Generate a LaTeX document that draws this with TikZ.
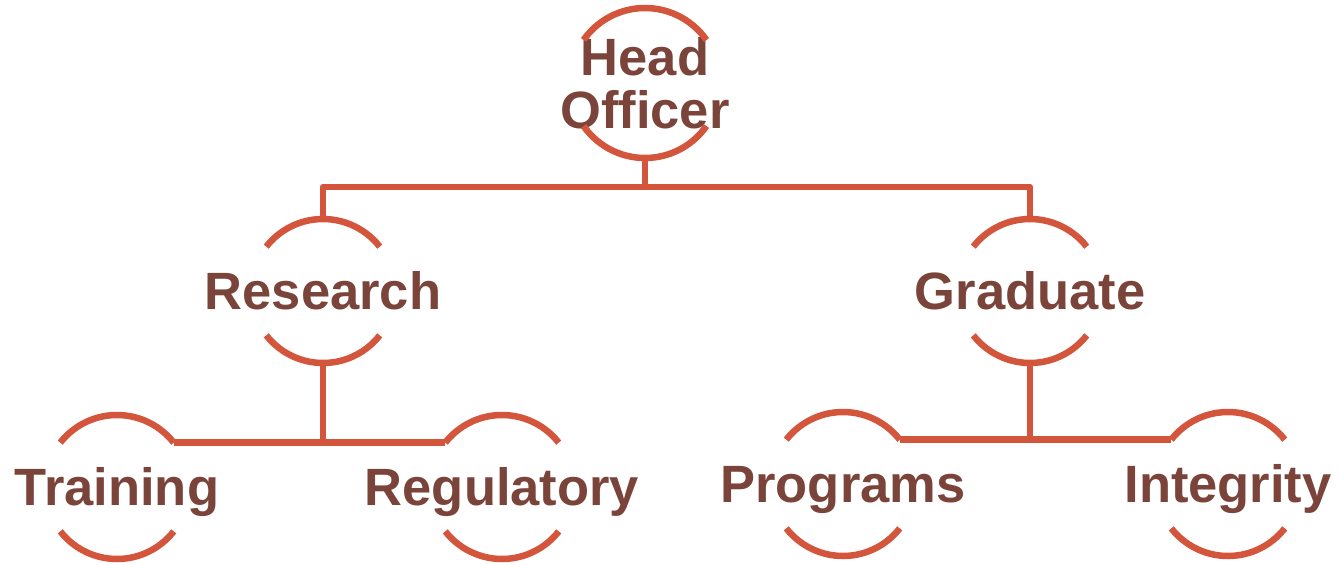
\documentclass[tikz,border=0pt]{standalone}
\usepackage{fontspec}
\setmainfont{Liberation Sans}
\usetikzlibrary{calc}
\usetikzlibrary{positioning}
\definecolor{linkred}{RGB}{211,85,60}
\definecolor{unitbrown}{RGB}{122,68,58}
\tikzset{
  unit/.style={text=unitbrown, font=\bfseries\fontsize{52.5}{53}\selectfont, inner sep=0pt},
  oneline/.style={text height=37.6pt, text depth=0pt},
  link/.style={draw=linkred, line width=6.5pt, line join=round},
}

\begin{document}
\begin{tikzpicture}[x=1pt,y=1pt]
\useasboundingbox (0,0) rectangle (1339,-565);
% The units of the chart
\node[unit, align=center] (head) at (645,-83) {Head\\Officer};
\node[unit, oneline] (res) at (323,-291) {Research};
\node[unit, oneline] (grad) at (1030,-291) {Graduate};
\node[unit, oneline] (train) at (117,-487) {Training};
\node[unit, oneline] (reg) at (502,-487) {Regulatory};
\node[unit, oneline] (prog) at (843,-484) {Programs};
\node[unit, oneline] (integ) at (1228,-484) {Integrity};
%% Open circles round the units, with their top, bottom and corner points
\foreach \n/\r/\a in {head/75/35, res/72/38, grad/72/38, train/72/38, reg/72/38, prog/72/38, integ/72/38}{
  \draw[link] ($(\n.center)+(\a:\r)$) arc (\a:180-\a:\r);
  \draw[link] ($(\n.center)+(180+\a:\r)$) arc (180+\a:360-\a:\r);
  \coordinate (\n-n) at ($(\n.center)+(90:\r)$);
  \coordinate (\n-s) at ($(\n.center)+(270:\r)$);
  \coordinate (\n-ne) at ($(\n.center)+(\a:\r)$);
  \coordinate (\n-nw) at ($(\n.center)+(180-\a:\r)$);
}
% Connectors
\coordinate (bar) at ($(head-s)+(0,-29)$);
\draw[link] (head-s) -- (bar);
\draw[link] (res-n) |- (bar) -| (grad-n);
\draw[link] (res-s) -- (res-s |- train-ne);
\draw[link] (train-ne) -- (reg-nw);
\draw[link] (grad-s) -- (grad-s |- prog-ne);
\draw[link] (prog-ne) -- (integ-nw);
\end{tikzpicture}
\end{document}
